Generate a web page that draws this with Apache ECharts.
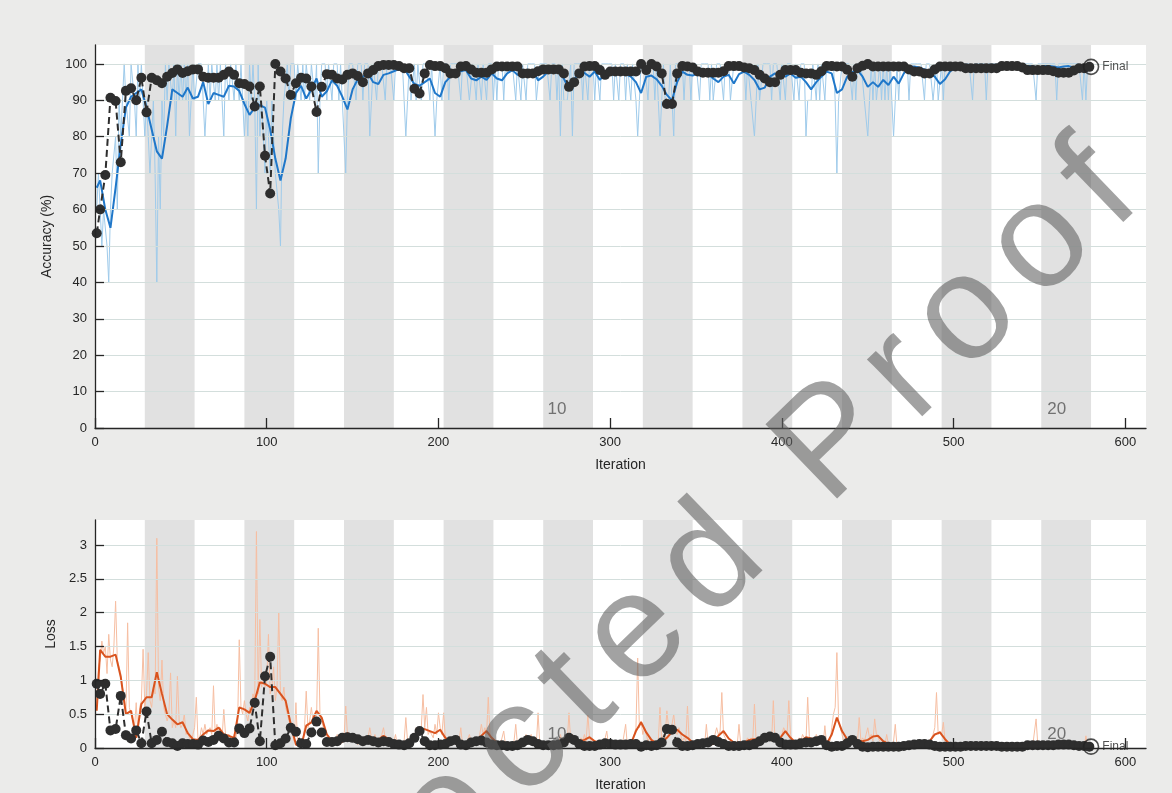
<!DOCTYPE html>
<html><head><meta charset="utf-8">
<script src="https://cdn.jsdelivr.net/npm/echarts@6/dist/echarts.min.js"></script>
<style>html,body{margin:0;padding:0;background:#ebebea;}#chart{width:1172px;height:793px;}</style>
</head><body><div id="chart"></div>
<script>
const xTicks = [0, 100, 200, 300, 400, 500, 600];
const accTicks = [0, 10, 20, 30, 40, 50, 60, 70, 80, 90, 100];
const lossTicks = [0, 0.5, 1, 1.5, 2, 2.5, 3];
const epochBands = [[29,58],[87,116],[145,174],[203,232],[261,290],[319,348],[377,406],[435,464],[493,522],[551,580]];
const epochLabels = ['10', '20'];
const epochLabelIters = [269, 560];
const watermarkText = 'Uncorrected Proof';

const rawAcc = [
60,70,70,50,60,60,50,40,60,70,
70,80,60,90,80,90,100,90,90,80,
100,100,90,80,100,90,100,90,80,90,
80,70,80,90,70,40,80,60,90,80,
100,90,100,100,90,100,80,100,90,100,
90,100,90,100,80,90,100,90,90,100,
100,100,100,80,90,100,90,100,100,90,
100,90,100,100,80,100,100,90,100,100,
90,100,100,90,100,90,80,90,80,100,
90,100,90,60,100,80,90,80,70,90,
80,70,90,80,70,70,60,50,80,90,
90,100,90,100,100,100,90,100,100,90,
100,90,100,100,90,100,100,90,100,70,
90,100,100,100,90,100,100,90,100,100,
100,90,100,90,90,70,90,100,100,100,
100,90,100,100,100,90,100,100,100,80,
90,100,100,90,100,100,100,100,90,100,
100,100,100,90,100,100,100,100,100,90,
80,90,100,90,90,100,90,100,100,90,
100,100,100,100,90,100,100,80,90,90,
100,90,100,100,100,90,100,100,100,100,
100,100,90,100,100,100,100,90,90,100,
100,90,100,100,90,100,100,90,100,100,
100,90,100,90,100,100,100,90,100,100,
100,100,100,100,90,100,100,90,100,100,
90,100,100,100,100,100,90,90,100,100,
100,100,100,100,90,100,100,100,90,100,
80,100,90,90,90,90,100,80,100,100,
100,100,100,90,100,100,90,100,100,100,
90,100,100,90,100,100,100,100,100,100,
100,90,100,100,90,100,100,100,90,100,
100,90,100,100,90,80,90,100,100,100,
100,90,100,100,100,90,100,90,80,90,
100,90,90,90,100,90,80,100,100,100,
100,100,90,100,100,100,90,100,100,100,
100,90,100,100,100,100,100,90,100,90,
90,100,100,100,100,90,100,100,100,90,
90,100,100,100,100,100,100,100,90,100,
100,90,90,80,90,100,90,90,100,100,
100,100,100,90,100,100,100,100,90,100,
100,90,100,100,100,100,90,100,100,90,
100,100,100,80,90,90,90,100,100,90,
100,90,100,100,90,100,100,100,100,100,
90,70,90,90,100,100,100,100,100,100,
90,100,90,100,100,100,100,90,90,80,
90,100,90,100,90,90,100,90,100,90,
100,90,100,90,80,90,100,90,100,100,
100,100,100,90,100,100,100,100,100,100,
100,100,90,100,100,100,100,90,90,100,
90,90,100,90,100,100,100,100,100,100,
100,100,100,100,100,100,100,100,100,100,
90,100,100,100,100,100,100,100,90,100,
100,100,100,100,100,100,100,100,100,100,
100,100,100,100,100,100,100,100,100,100,
100,100,100,100,100,100,100,90,100,100,
100,100,100,100,100,100,100,100,100,90,
100,100,100,100,100,100,100,100,100,100,
100,100,100,100,90,100,90,100,100,100
];

const smoothAcc = [
66,68,60,55,66,78,88,91,92,93,
88,82,76,74,83,93,92,91,93.5,90.5,
91,95,89,92,91.5,91,94,93.8,92.6,89,
86,88,88.7,88,82,74,68,74,85,92,
94,90.5,93,96,91,92.5,95.5,94,91,87.5,
93,95.8,96.5,97.4,95,94.5,97,97.4,98,98.6,
98.8,96.5,94.5,94,95,96,92,91,95,96.5,
97.4,98,98.3,96,95.5,96.5,95.6,97.4,96,95.5,
97.4,98.3,97,96.8,97.4,98.3,95.5,96.5,98,98.3,
97.9,96,93,95.5,98,97.5,96.5,97.9,95.6,97.4,
98.8,97.6,97.9,97.2,96.5,95,92,96.5,96.8,95.8,
94,91.5,90,95,97.9,97,96.8,97.4,97.9,97.2,
96,95,96.5,97,94.6,97.2,97.9,97,95.6,93,
93.5,96.5,97.4,97,96.5,97.4,96.2,96.5,95,93,
95,96.5,97.9,97.4,92,93,96.5,97.8,98.3,96.5,
93.7,95,93.7,95.6,94.2,96.5,94.6,97.4,99.2,99.3,
99,98.5,97.4,96.5,94.5,95.8,98,98.8,99.4,99.6,
99.2,99.6,99.4,99,99.5,99.7,99.7,99.7,99.7,99.7,
99.6,99.6,99.4,99,99.4,99.5,99.3,99,99.3,99.4,
99,98.4,98.3,99
];

const valAcc = [
53.5,60,69.5,90.7,89.8,73,92.6,93.3,90,96.2,
86.7,96.2,95.5,94.7,96.5,97.5,98.5,97.5,98,98.5,
98.5,96.5,96.2,96.2,96.2,97,97.9,97,94.7,94.5,
93.8,88.3,93.8,74.8,64.4,100,97.9,96,91.5,94.7,
96.2,96,93.8,86.8,93.7,97.2,97,96,95.7,97,
97.4,96.7,95,97.4,98.3,99.4,99.7,99.7,99.7,99.4,
98.8,98.8,93.2,91.9,97.4,99.7,99.4,99.4,98.8,97.4,
97.4,99.3,99.4,98.5,97.6,97.6,97.6,98.5,99.3,99.3,
99.3,99.3,99.3,97.4,97.4,97.4,98,98.5,98.5,98.5,
98.5,97.4,93.7,95,97.4,99.3,99.4,99.4,98.3,97,
97.9,97.9,97.9,97.9,97.9,97.9,100,98.3,100,99.3,
97.4,89,89,97.4,99.4,99.3,99,97.9,97.6,97.6,
97.6,97.6,98,99.4,99.4,99.4,99,98.8,98.3,97,
96,95,95,97,98.3,98.3,98.3,97.6,97.4,97.4,
97,98,99.4,99.4,99.3,99.3,98.4,96.5,98.8,99.5,
100,99.3,99.3,99.3,99.3,99.3,99.3,99.3,98.5,97.9,
97.9,97.4,97.4,98.5,99.3,99.3,99.3,99.3,99.3,98.8,
98.8,98.8,98.8,98.8,98.8,98.8,99.4,99.4,99.4,99.4,
99,98.3,98.3,98.3,98.3,98.3,98,97.6,97.6,97.6,
98.2,98.8,98.8,99.2
];

const rawLoss = [
0.6,1.2,1.3,1.58,1.4,1.5,1.1,1.68,1.3,1.2,
1.5,2.17,1.3,1.2,1.1,0.9,0.7,0.5,1.85,0.6,
0.5,0.4,0.3,0.67,0.2,0.6,0.7,1.46,0.6,0.8,
1.41,0.7,0.6,0.9,0.8,3.1,0.9,0.7,1.3,0.6,
0.5,0.4,0.5,1.11,0.3,0.4,0.3,1.06,0.4,0.3,
0.35,0.5,0.2,0.25,0.15,0.1,0.2,0.3,0.75,0.1,
0.15,0.3,0.2,0.35,0.2,0.25,0.3,0.2,0.92,0.2,
0.35,0.2,0.3,0.15,0.57,0.2,0.1,0.2,0.15,0.1,
0.2,0.15,0.3,1.6,0.6,0.5,0.7,0.5,0.4,0.6,
0.5,0.8,0.7,3.2,0.8,1.9,0.9,1.1,0.9,1.0,
1.68,0.8,0.9,1.2,0.7,0.9,2.0,0.8,0.7,0.9,
0.6,0.5,0.4,0.3,0.2,0.1,0.67,0.05,0.03,0.02,
0.1,0.3,0.84,0.3,0.4,0.6,0.4,0.5,0.4,1.77,
0.5,0.4,0.3,0.2,0.15,0.1,0.05,0.1,0.15,0.1,
0.2,0.1,0.05,0.1,0.15,0.62,0.2,0.15,0.2,0.1,
0.1,0.15,0.05,0.1,0.05,0.1,0.08,0.1,0.15,0.3,
0.15,0.1,0.2,0.1,0.1,0.15,0.2,0.3,0.15,0.1,
0.1,0.15,0.05,0.1,0.2,0.05,0.05,0.03,0.05,0.1,
0.45,0.1,0.05,0.1,0.2,0.15,0.3,0.2,0.25,0.3,
0.79,0.3,0.6,0.2,0.25,0.2,0.15,0.35,0.2,0.52,
0.3,0.2,0.52,0.15,0.1,0.05,0.1,0.15,0.1,0.05,
0.05,0.1,0.3,0.05,0.1,0.05,0.05,0.2,0.1,0.05,
0.1,0.15,0.1,0.2,0.35,0.2,0.3,0.2,0.75,0.2,
0.1,0.05,0.1,0.05,0.1,0.05,0.05,0.25,0.05,0.03,
0.05,0.03,0.05,0.1,0.35,0.05,0.03,0.05,0.1,0.15,
0.2,0.1,0.15,0.2,0.05,0.1,0.05,0.52,0.05,0.03,
0.05,0.03,0.05,0.1,0.05,0.03,0.03,0.05,0.1,0.05,
0.2,0.1,0.05,0.15,0.1,0.52,0.1,0.2,0.15,0.1,
0.05,0.1,0.15,0.1,0.2,0.1,0.5,0.15,0.1,0.05,
0.05,0.1,0.05,0.05,0.1,0.03,0.05,0.25,0.05,0.03,
0.05,0.03,0.05,0.1,0.03,0.05,0.03,0.05,0.35,0.03,
0.05,0.1,0.05,0.2,0.3,1.33,0.3,0.4,0.2,0.3,
0.2,0.1,0.15,0.1,0.05,0.1,0.05,0.1,0.6,0.1,
0.2,0.15,0.55,0.3,0.2,0.35,0.5,0.25,0.2,0.3,
0.2,0.1,0.15,0.1,0.62,0.1,0.05,0.1,0.05,0.03,
0.05,0.1,0.05,0.1,0.05,0.35,0.05,0.03,0.1,0.05,
0.2,0.3,0.2,0.25,0.82,0.2,0.15,0.1,0.1,0.05,
0.1,0.05,0.1,0.05,0.35,0.05,0.1,0.05,0.1,0.15,
0.1,0.15,0.1,0.65,0.1,0.05,0.1,0.15,0.1,0.2,
0.15,0.2,0.15,0.1,0.7,0.1,0.15,0.1,0.15,0.2,
0.3,0.25,0.2,0.7,0.2,0.1,0.05,0.1,0.05,0.15,
0.1,0.2,0.15,0.1,0.75,0.15,0.1,0.15,0.1,0.2,
0.15,0.1,0.15,0.05,0.33,0.05,0.03,0.1,0.3,0.5,
0.6,1.41,0.4,0.3,0.2,0.1,0.15,0.1,0.05,0.1,
0.15,0.1,0.05,0.1,0.45,0.1,0.15,0.1,0.2,0.3,
0.15,0.2,0.1,0.43,0.2,0.15,0.1,0.05,0.1,0.05,
0.2,0.05,0.03,0.05,0.1,0.35,0.03,0.02,0.03,0.02,
0.02,0.03,0.02,0.05,0.02,0.03,0.02,0.02,0.05,0.02,
0.03,0.02,0.1,0.03,0.05,0.1,0.15,0.2,0.3,0.82,
0.2,0.25,0.2,0.38,0.1,0.05,0.03,0.02,0.03,0.02,
0.02,0.01,0.02,0.01,0.03,0.01,0.01,0.02,0.01,0.01,
0.05,0.01,0.01,0.02,0.01,0.01,0.01,0.02,0.05,0.01,
0.01,0.01,0.02,0.01,0.01,0.01,0.01,0.01,0.02,0.01,
0.01,0.01,0.01,0.02,0.01,0.01,0.01,0.01,0.01,0.01,
0.01,0.02,0.01,0.01,0.02,0.03,0.05,0.43,0.05,0.02,
0.01,0.01,0.01,0.02,0.01,0.01,0.01,0.01,0.02,0.1,
0.01,0.01,0.01,0.01,0.01,0.02,0.01,0.01,0.01,0.01,
0.01,0.01,0.01,0.01,0.05,0.02,0.18,0.02,0.01,0.01
];

const smoothLoss = [
0.55,1.45,1.35,1.35,1.38,1.05,0.5,0.55,0.15,0.65,
0.75,0.75,1.12,0.8,0.5,0.42,0.35,0.38,0.22,0.13,
0.12,0.2,0.26,0.25,0.3,0.2,0.18,0.15,0.6,0.57,
0.52,0.7,0.97,0.95,0.9,0.9,0.8,0.7,0.35,0.05,
0.02,0.33,0.38,0.55,0.45,0.2,0.1,0.12,0.09,0.22,
0.16,0.12,0.08,0.1,0.13,0.12,0.18,0.13,0.1,0.07,
0.04,0.05,0.12,0.26,0.28,0.25,0.22,0.27,0.15,0.1,
0.08,0.07,0.06,0.07,0.1,0.18,0.25,0.15,0.08,0.06,
0.05,0.04,0.05,0.08,0.13,0.1,0.06,0.05,0.05,0.04,
0.05,0.08,0.1,0.13,0.1,0.12,0.16,0.1,0.07,0.05,
0.04,0.05,0.04,0.03,0.06,0.25,0.38,0.23,0.12,0.07,
0.08,0.15,0.24,0.27,0.2,0.15,0.08,0.06,0.07,0.05,
0.06,0.18,0.25,0.14,0.08,0.06,0.08,0.12,0.13,0.1,
0.15,0.18,0.12,0.15,0.25,0.15,0.08,0.1,0.16,0.14,
0.13,0.12,0.06,0.2,0.45,0.25,0.13,0.1,0.11,0.1,
0.12,0.17,0.18,0.1,0.06,0.04,0.03,0.02,0.02,0.02,
0.02,0.03,0.1,0.2,0.23,0.13,0.05,0.02,0.02,0.01,
0.02,0.02,0.01,0.02,0.01,0.01,0.01,0.01,0.01,0.01,
0.01,0.02,0.03,0.08,0.03,0.02,0.01,0.01,0.01,0.02,
0.01,0.01,0.01,0.01
];

const valLoss = [
0.95,0.8,0.95,0.26,0.28,0.77,0.19,0.14,0.26,0.07,
0.54,0.07,0.12,0.24,0.09,0.07,0.03,0.07,0.06,0.06,
0.05,0.11,0.09,0.12,0.18,0.14,0.08,0.08,0.29,0.22,
0.29,0.67,0.1,1.06,1.35,0.04,0.07,0.14,0.3,0.24,
0.07,0.06,0.23,0.39,0.23,0.09,0.09,0.1,0.15,0.16,
0.15,0.13,0.1,0.12,0.1,0.08,0.1,0.09,0.06,0.05,
0.04,0.07,0.15,0.25,0.1,0.04,0.04,0.05,0.06,0.1,
0.12,0.05,0.04,0.08,0.1,0.11,0.08,0.05,0.04,0.04,
0.03,0.03,0.04,0.08,0.12,0.1,0.06,0.04,0.04,0.04,
0.05,0.08,0.15,0.12,0.06,0.03,0.03,0.03,0.05,0.07,
0.06,0.05,0.05,0.05,0.06,0.06,0.02,0.04,0.03,0.04,
0.08,0.28,0.27,0.08,0.03,0.03,0.04,0.06,0.07,0.08,
0.12,0.09,0.06,0.03,0.03,0.03,0.04,0.04,0.06,0.1,
0.15,0.17,0.15,0.08,0.05,0.05,0.05,0.07,0.08,0.08,
0.1,0.12,0.04,0.02,0.03,0.03,0.07,0.12,0.06,0.02,
0.01,0.02,0.02,0.02,0.02,0.02,0.02,0.03,0.04,0.05,
0.06,0.06,0.05,0.03,0.02,0.02,0.02,0.02,0.02,0.03,
0.03,0.03,0.03,0.03,0.03,0.03,0.02,0.02,0.02,0.02,
0.02,0.04,0.04,0.04,0.04,0.04,0.04,0.05,0.05,0.05,
0.04,0.03,0.03,0.02
];

const finalIter = 580;
const finalAcc = 99.2;
const finalLoss = 0.02;

// iteration indices
const rawIters = rawAcc.map((_, i) => i + 1);
const valIters = valAcc.map((_, k) => (k === 0 ? 1 : 3 * k));

const pair = (xs, ys) => ys.map((y, i) => [xs[i], y]);

const FONT = '"Liberation Sans", Arial, Helvetica, sans-serif';
const AX = '#262626';

function xAxisCfg(gi) {
  return {
    type: 'value', gridIndex: gi, min: 0, max: 612, z: 10,
    name: 'Iteration', nameLocation: 'middle', nameGap: 30,
    nameTextStyle: { fontFamily: FONT, fontSize: 14, color: AX },
    axisLine: { show: true, onZero: false, lineStyle: { color: AX, width: 1.3 } },
    axisTick: { show: true, inside: true, length: 10, customValues: xTicks, lineStyle: { color: AX, width: 1.3 } },
    axisLabel: { customValues: xTicks, fontFamily: FONT, fontSize: 13, color: AX, margin: 8 },
    splitLine: { show: false }
  };
}
function yAxisCfg(gi, name, max, ticks, gap) {
  return {
    type: 'value', gridIndex: gi, min: 0, max: max, z: 10,
    name: name, nameLocation: 'middle', nameGap: gap,
    nameTextStyle: { fontFamily: FONT, fontSize: 14, color: AX },
    axisLine: { show: true, onZero: false, lineStyle: { color: AX, width: 1.3 } },
    axisTick: { show: true, inside: true, length: 9, customValues: ticks, lineStyle: { color: AX, width: 1.3 } },
    axisLabel: { customValues: ticks, fontFamily: FONT, fontSize: 13, color: AX, margin: 8 },
    splitLine: { show: false }
  };
}

function panelSeries(gi, ticks, raw, smooth, val, finalY, rawColor, smoothColor, epochY) {
  return [
    { type: 'line', xAxisIndex: gi, yAxisIndex: gi, data: [], z: 1, silent: true,
      markArea: { silent: true, itemStyle: { color: '#e1e1e1' },
        data: epochBands.map(b => [{ xAxis: b[0] }, { xAxis: b[1] }]) } },
    { type: 'line', xAxisIndex: gi, yAxisIndex: gi, data: [], z: 2, silent: true,
      markLine: { silent: true, symbol: ['none', 'none'], label: { show: false },
        lineStyle: { color: '#d3dedc', width: 1, type: 'solid' },
        data: ticks.filter(v => v > 0).map(v => ({ yAxis: v })) } },
    { type: 'line', xAxisIndex: gi, yAxisIndex: gi, data: pair(rawIters, raw), z: 3,
      symbol: 'none', lineStyle: { color: rawColor, width: 1 } },
    { type: 'line', xAxisIndex: gi, yAxisIndex: gi, data: pair(valIters, smooth), z: 4,
      symbol: 'none', lineStyle: { color: smoothColor, width: 2 } },
    { type: 'line', xAxisIndex: gi, yAxisIndex: gi, data: pair(valIters, val), z: 5,
      symbol: 'circle', symbolSize: 10, showAllSymbol: true,
      itemStyle: { color: '#2e2e2e' },
      lineStyle: { color: '#2e2e2e', width: 2, type: [7, 4] } },
    { type: 'scatter', xAxisIndex: gi, yAxisIndex: gi, data: [[finalIter, finalY]], z: 6,
      symbol: 'circle', symbolSize: 15,
      itemStyle: { color: 'rgba(0,0,0,0)', borderColor: '#222', borderWidth: 1.6 },
      label: { show: true, position: 'right', distance: 3, formatter: 'Final',
        fontFamily: FONT, fontSize: 12, color: AX } },
    { type: 'scatter', xAxisIndex: gi, yAxisIndex: gi, z: 6, symbolSize: 0,
      data: epochLabelIters.map((x, i) => ({ value: [x, epochY], name: epochLabels[i] })),
      label: { show: true, position: 'inside', formatter: p => p.name,
        fontFamily: FONT, fontSize: 17, color: '#555' } }
  ];
}

// watermark: each letter placed along a 44-degree diagonal with extra tracking
function watermark() {
  const font = '150px "Liberation Sans", Arial, sans-serif';
  const track = 20;
  const ang = 44 * Math.PI / 180;
  const ax = 1100, ay = 187;          // centre of the last letter
  const ctx = document.createElement('canvas').getContext('2d');
  ctx.font = font;
  const chars = watermarkText.split('');
  const w = chars.map(c => ctx.measureText(c).width);
  const off = new Array(chars.length);
  off[chars.length - 1] = 0;
  for (let i = chars.length - 2; i >= 0; i--) {
    off[i] = off[i + 1] - (w[i] + w[i + 1]) / 2 - track;
  }
  return chars.map((c, i) => ({
    type: 'text', silent: true, z: 100,
    x: ax + off[i] * Math.cos(ang), y: ay - off[i] * Math.sin(ang),
    rotation: ang,
    style: { text: c, font: font, fill: 'rgba(95,95,95,0.58)',
      align: 'center', verticalAlign: 'middle', textAlign: 'center', textVerticalAlign: 'middle' }
  }));
}

const chart = echarts.init(document.getElementById('chart'), null, { renderer: 'canvas' });
chart.setOption({
  animation: false,
  backgroundColor: '#ebebea',
  grid: [
    { left: 95, top: 45, width: 1051, height: 383, show: true, backgroundColor: '#ffffff', borderWidth: 0 },
    { left: 95, top: 520, width: 1051, height: 229, show: true, backgroundColor: '#ffffff', borderWidth: 0 }
  ],
  xAxis: [xAxisCfg(0), xAxisCfg(1)],
  yAxis: [
    yAxisCfg(0, 'Accuracy (%)', 105.2, accTicks, 40),
    yAxisCfg(1, 'Loss', 3.37, lossTicks, 32)
  ],
  series: [].concat(
    panelSeries(0, accTicks, rawAcc, smoothAcc, valAcc, finalAcc, '#9fcbeb', '#1f77c9', 5),
    panelSeries(1, lossTicks, rawLoss, smoothLoss, valLoss, finalLoss, '#f6bea2', '#d9531e', 0.2)
  ),
  graphic: watermark()
});
</script></body></html>
